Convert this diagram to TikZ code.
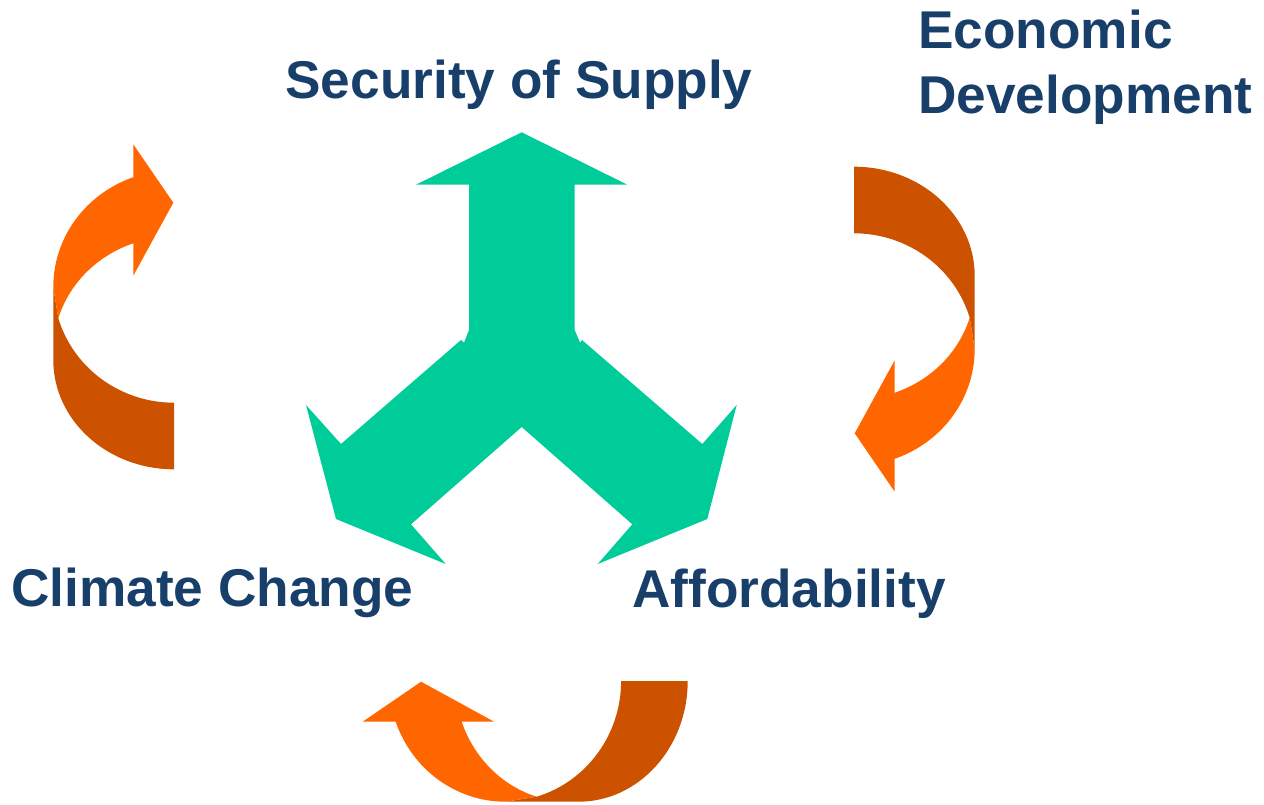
\documentclass[tikz,border=0pt]{standalone}
\usepackage{fontspec}
\setmainfont{Liberation Sans}
\usepackage{tikz}
\usepackage{xcolor}

\definecolor{hubgreen}{RGB}{0,204,153}
\definecolor{loopfront}{RGB}{255,102,0}
\definecolor{loopback}{RGB}{204,82,0}
\definecolor{labelblue}{RGB}{24,63,106}

\newcommand{\turnarrow}{%
  \fill [loopback] (53.3, 287) -- (53.3, 360) arc [start angle=180, end angle=90, x radius=120.7, y radius=109.3] -- (174, 402.7) arc [start angle=90, end angle=163.5, x radius=120.7, y radius=118] -- cycle;
  \fill [loopfront] (53.3, 287) arc [start angle=180, end angle=250.3, x radius=120.7, y radius=116.6] -- (133.3, 144.3) -- (173.3, 202.7) -- (133.3, 275.7) -- (133.3, 243.3) arc [start angle=250.3, end angle=196.5, x radius=120.7, y radius=114.3] -- cycle;
}

\begin{document}
\begin{tikzpicture}[x=0.5pt, y=-0.5pt, lbl/.style={text=labelblue, font=\fontsize{26.6}{32.3}\selectfont\bfseries, inner sep=0, anchor=base west}]
\useasboundingbox (0, 0) rectangle (1264, 804);
\fill [hubgreen] (521.7, 132.3) -- (627.3, 184.7) -- (574.7, 184.7) -- (574.7, 330) -- (580, 342.7) -- (582, 340) -- (702.3, 444) -- (736.7, 405) -- (707.3, 519) -- (597.7, 564) -- (632.3, 524.3) -- (521.7, 427) -- (411, 524.3) -- (445.7, 564) -- (336, 519) -- (306, 405) -- (341, 444) -- (461, 340) -- (464, 342.7) -- (469, 330) -- (469, 184.7) -- (416, 184.7) -- cycle;
\turnarrow
\begin{scope} [rotate around={180:(514, 318)}]
  \turnarrow
\end{scope}
\begin{scope} [rotate around={90:(536.7, 318.3)}]
  \turnarrow
\end{scope}
\node [lbl] (supply) at (285, 98) {Security of Supply};
\node [lbl, align=left] (economy) at (918, 113) {Economic\\Development};
\node [lbl] (climate) at (11, 606) {Climate Change};
\node [lbl] (afford) at (632, 607) {Affordability};
\end{tikzpicture}
\end{document}
